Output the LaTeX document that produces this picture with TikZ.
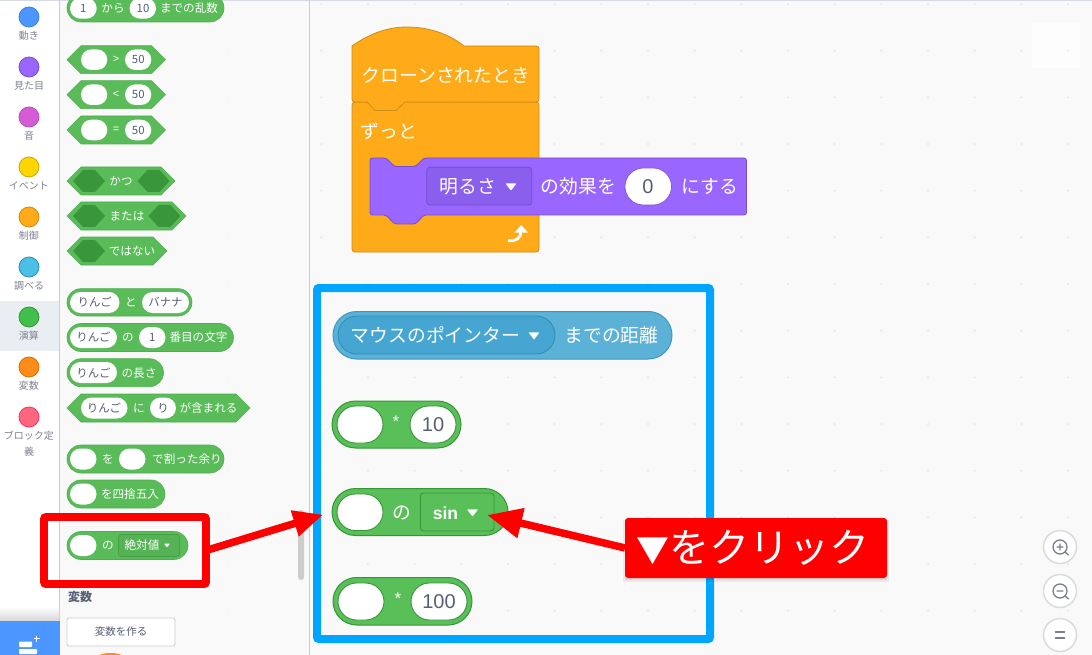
\documentclass[tikz,border=0pt]{standalone}
\usepackage{fontspec}
\setmainfont{Noto Sans CJK JP}
\newfontfamily\latn{Liberation Sans}
\usetikzlibrary{arrows.meta,shapes.misc}
\definecolor{wsbg}{HTML}{F9F9F9}
\definecolor{grn}{HTML}{59C059}
\definecolor{grnpal}{HTML}{59BC59}
\definecolor{grnd}{HTML}{389438}
\definecolor{grnin}{HTML}{3A963A}
\definecolor{org}{HTML}{FFAB19}
\definecolor{orgd}{HTML}{CF8B17}
\definecolor{pur}{HTML}{9966FF}
\definecolor{purd}{HTML}{774DCB}
\definecolor{purin}{HTML}{8A5FEE}
\definecolor{sen}{HTML}{5CB1D6}
\definecolor{sens}{HTML}{47A6D1}
\definecolor{send}{HTML}{2E8EB8}
\definecolor{ink}{HTML}{575E75}
\definecolor{catink}{HTML}{7D8291}
\definecolor{mainred}{HTML}{FF0000}
\definecolor{boxblue}{HTML}{00A5FF}
\definecolor{scratchblue}{HTML}{4C97FF}
\definecolor{selcat}{HTML}{E9EEF2}
\definecolor{topline}{HTML}{D5DAE6}
\definecolor{varorg}{HTML}{FF8C1A}
\definecolor{faintwhite}{HTML}{FDFDFD}
\newcount\tcnt
\newcount\pcnt
\newcommand{\tx}[4]{\global\advance\tcnt by 1 \node[#1] (t\the\tcnt) at (#2,#3) {#4};}
% pill: style, x1,y1,x2,y2
\newcommand{\pil}[5]{\global\advance\pcnt by 1
  \pgfmathsetmacro\pw{#4-#2}\pgfmathsetmacro\ph{#5-#3}
  \pgfmathsetmacro\pcx{(#4+#2)/2}\pgfmathsetmacro\pcy{(#5+#3)/2}
  \node[rounded rectangle,inner sep=0,outer sep=0,minimum width=\pw pt,minimum height=\ph pt,#1] (p\the\pcnt) at (\pcx,\pcy) {};}
% hexagon: style,x1,x2,cy,half height,inset
\newcommand{\hexa}[6]{\pgfmathsetmacro\xa{#2+#6}\pgfmathsetmacro\xb{#3-#6}
  \pgfmathsetmacro\yt{#4-#5}\pgfmathsetmacro\yb{#4+#5}
  \path[#1] (#2,#4)--(\xa,\yt)--(\xb,\yt)--(#3,#4)--(\xb,\yb)--(\xa,\yb)--cycle;}
% dropdown triangle: x,y,half width
\newcommand{\tri}[3]{\pgfmathsetmacro\xa{#1-#3}\pgfmathsetmacro\xb{#1+#3}
  \pgfmathsetmacro\yt{#2-0.65*#3}\pgfmathsetmacro\yb{#2+0.65*#3}
  \fill[white,rounded corners=0.6] (\xa,\yt)--(\xb,\yt)--(#1,\yb)--cycle;}
\newcommand{\catg}[3]{\definecolor{cf}{HTML}{#1}\definecolor{cd}{HTML}{#2}\node[circle,fill=cf,draw=cd,line width=.8,minimum size=20,inner sep=0] (c#3) at (29,#3) {};}
\tikzset{
 tpal/.style={font=\fontsize{11.6}{13}\selectfont,text=white,inner sep=0,text height=10.2,text depth=1.4},
 tin/.style={font=\fontsize{11.4}{13}\selectfont,text=ink,inner sep=0,text height=10,text depth=1.4},
 tsym/.style={font=\latn\fontsize{11}{13}\selectfont,text=white,inner sep=0},
 tcat/.style={font=\fontsize{10}{12}\selectfont,text=catink,inner sep=0,text height=8.8,text depth=1.2},
 tbig/.style={font=\fontsize{18.8}{22}\selectfont,text=white,inner sep=0,text height=16.5,text depth=2.3},
 tbigl/.style={font=\latn\fontsize{20}{24}\selectfont,text=ink,inner sep=0},
 palb/.style={fill=grnpal,draw=grnpal!92!black,line width=.6},
 pali/.style={fill=white},
 dkhex/.style={fill=grnin},
 wsb/.style={fill=grn,draw=grnd,line width=1},
 wsi/.style={fill=white,draw=grnd,line width=.9},
 zoombtn/.style={circle,fill=white,draw=black!14,line width=1.5,minimum size=33,inner sep=0},
 zoomic/.style={draw=ink!80,line width=1.3,line cap=round},
 redarrow/.style={draw=mainred,line width=7.5,line cap=butt}
}
\begin{document}
\begin{tikzpicture}[x=1pt,y=-1pt]
\useasboundingbox (0,0) rectangle (1092,655);
% backgrounds
\fill[wsbg] (0,0) rectangle (1092,655);
\fill[white] (0,0) rectangle (59,655);
\fill[faintwhite] (1032,22) rectangle (1080,68);
\fill[topline] (0,0) rectangle (1092,0.8);
\draw[black!20,line width=.9] (59.5,0) -- (59.5,655);
\draw[black!20,line width=1] (309.5,0) -- (309.5,655);
\fill[selcat] (0,301) rectangle (59,351);
% grid dots
\foreach \i in {0,...,16} \foreach \j in {0,...,14} {
  \fill[black!14] ({321.3+46.67*\i},{4+46.67*\j}) circle (0.8);
}
\foreach \i in {0,1,2} \foreach \j in {0,...,14} {
  \fill[black!5] ({181.3+46.67*\i},{4+46.67*\j}) circle (0.8);
}
% categories
\catg{4C97FF}{3D7FD9}{17}
\catg{9966FF}{774DCB}{67}
\catg{D65CD6}{B84DB8}{117}
\catg{FFD500}{CCAA00}{167}
\catg{FFAB19}{CF8B17}{217}
\catg{4CBFE6}{2E8EB8}{267}
\catg{40BF4A}{389438}{317}
\catg{FF8C1A}{DB6E00}{367}
\catg{FF6680}{FF3355}{417}
\tx{tcat}{29}{36}{動き}
\tx{tcat}{29}{86}{見た目}
\tx{tcat}{29}{136}{音}
\tx{tcat}{29}{186}{イベント}
\tx{tcat}{29}{236}{制御}
\tx{tcat}{29}{286}{調べる}
\tx{tcat}{29}{336}{演算}
\tx{tcat}{29}{386}{変数}
\tx{tcat}{29}{436}{ブロック定}
\tx{tcat}{29}{452}{義}
% bottom left
\shade[top color=white,bottom color=black!16] (0,607) rectangle (59,621);
\fill[scratchblue] (0,621) rectangle (60,655);
\fill[white,rounded corners=.8] (19,641.5) rectangle (32,647);
\fill[white,rounded corners=.8] (19,649) rectangle (37,654);
\draw[white,line width=1.6] (33.5,638.5) -- (39.5,638.5) (36.5,635.5) -- (36.5,641.5);
% palette blocks
\pil{palb}{67}{-6}{224}{22}
\pil{pali}{70}{-2}{96.7}{18.7}\tx{tin}{83.3}{8}{1}
\tx{tpal}{113}{8}{から}
\pil{pali}{129.5}{-2}{156}{18.7}\tx{tin}{143}{8}{10}
\tx{tpal}{189}{8}{までの乱数}
% comparison
\foreach \cy/\sg in {59.7/>,94.7/<,130/=} {
  \hexa{palb}{67}{165.5}{\cy}{14}{14}
  \pgfmathsetmacro\yu{\cy-10.3}\pgfmathsetmacro\yl{\cy+10.3}
  \pil{pali}{81}{\yu}{107.3}{\yl}
  \tx{tsym}{116}{\cy}{\sg}
  \pil{pali}{125}{\yu}{151.3}{\yl}
  \tx{tin}{138.3}{\cy}{50}
}
\hexa{palb}{67}{175}{181}{14}{14}
\hexa{dkhex}{73}{105}{181}{11}{10}\hexa{dkhex}{137.5}{169.5}{181}{11}{10}
\tx{tpal}{121}{181}{かつ}
\hexa{palb}{67}{186}{216}{14}{14}
\hexa{dkhex}{73}{105}{216}{11}{10}\hexa{dkhex}{148.5}{180.5}{216}{11}{10}
\tx{tpal}{127}{216}{または}
\hexa{palb}{67}{167}{251}{14}{14}
\hexa{dkhex}{73}{105}{251}{11}{10}
\tx{tpal}{132}{251}{ではない}
% strings
\pil{palb}{67}{288.7}{192}{316}
\pil{pali}{70}{292}{119.5}{313}\tx{tin}{94.7}{302.5}{りんご}
\tx{tpal}{131}{302.5}{と}
\pil{pali}{142}{292}{189}{313}\tx{tin}{165.5}{302.5}{バナナ}
\pil{palb}{67}{323.5}{233.5}{351.5}
\pil{pali}{70}{327}{117}{348}\tx{tin}{93.5}{337.5}{りんご}
\tx{tpal}{128}{337.5}{の}
\pil{pali}{139}{327}{165.5}{348}\tx{tin}{152.3}{337.5}{1}
\tx{tpal}{198.5}{337.5}{番目の文字}
\pil{palb}{67}{358.7}{163.5}{386.7}
\pil{pali}{70}{362}{117}{383}\tx{tin}{93.5}{372.7}{りんご}
\tx{tpal}{139}{372.7}{の長さ}
\hexa{palb}{67}{250}{408}{14}{14}
\pil{pali}{81}{397.5}{127.5}{418.5}\tx{tin}{104}{408}{りんご}
\tx{tpal}{139}{408}{に}
\pil{pali}{150}{397.5}{176}{418.5}\tx{tin}{163}{408}{り}
\tx{tpal}{208.5}{408}{が含まれる}
\pil{palb}{67}{445}{224}{473}
\pil{pali}{70}{448.5}{96.5}{469.5}
\tx{tpal}{108}{459}{を}
\pil{pali}{119}{448.5}{145.5}{469.5}
\tx{tpal}{187}{459}{で割った余り}
\pil{palb}{67}{480}{165}{508}
\pil{pali}{70}{483.5}{96.5}{504.5}
\tx{tpal}{130}{494}{を四捨五入}
\pil{palb}{67}{531.5}{188}{559.5}
\pil{pali}{70}{535}{96.5}{556}
\tx{tpal}{108}{545.5}{の}
\draw[grnd!70!grnpal,fill=grnpal!95!black,line width=.6,rounded corners=2.5] (118.5,534.5) rectangle (179.5,556.5);
\tx{tpal}{142}{545.5}{絶対値}
\tri{167}{545.5}{3}
% scrollbar
\fill[black!20,rounded corners=2.8] (298.2,510) rectangle (304,580);
% variables
\node[font=\bfseries\fontsize{12}{14}\selectfont,text=ink,inner sep=0] (vartitle) at (80,597) {変数};
\node[draw=black!20,fill=white,rounded corners=2,line width=.8,minimum width=108,minimum height=28,inner sep=0,font=\fontsize{10.5}{12}\selectfont,text=ink] (varbtn) at (121,632) {変数を作る};
\fill[varorg] (110.5,658) ellipse (14 and 5);
% top script
\draw[fill=org,draw=orgd,line width=.8,rounded corners=3] (352,102) rectangle (539,252);
\draw[fill=org,draw=orgd,line width=.8] (352,46) .. controls (372,32) and (390,27) .. (407,27) .. controls (427,27) and (448,33) .. (464,46) -- (536,46) .. controls (538,46) and (539,47) .. (539,49) -- (539,99) .. controls (539,101) and (538,102) .. (536,102) -- (405,102) -- (396,110.5) -- (375,110.5) -- (367,102) -- (355,102) .. controls (353,102) and (352,101) .. (352,99) -- cycle;
\tx{tbig}{446}{75}{クローンされたとき}
\tx{tbig}{389}{131}{ずっと}
\draw[fill=pur,draw=purd,line width=.8,rounded corners=2.5] (370,158) -- (386,158) -- (394.5,166.5) -- (415.5,166.5) -- (424,158) -- (746.5,158) -- (746.5,215) -- (424,215) -- (415.5,224) -- (394.5,224) -- (386,215) -- (370,215) -- cycle;
\draw[fill=purin,draw=purd,line width=.8,rounded corners=3] (426.7,167.3) rectangle (531.7,205);
\tx{tbig}{468}{186.5}{明るさ}
\tri{511}{187}{5.5}
\tx{tbig}{578.5}{186.5}{の効果を}
\pil{fill=white,draw=purd,line width=.6}{625}{168}{671.5}{205}
\tx{tbigl}{648}{187}{0}
\tx{tbig}{710}{186.5}{にする}
\draw[white,line width=2.8] (508,240.5) .. controls (516,242) and (521,238) .. (521,231);
\fill[white] (514.5,232.5) -- (521.3,225) -- (528,232.5) -- cycle;
% blue frame
\node[draw=boxblue,line width=8,rounded corners=2,minimum width=393,minimum height=351,inner sep=0] (frame) at (513.5,463.5) {};
% sensing
\pil{fill=sen,draw=send!70!sen,line width=1}{333}{311.5}{672}{359}
\pil{fill=sens,draw=send,line width=.9}{338}{316}{555}{354}
\tx{tbig}{435.5}{335}{マウスのポインター}
\tri{534}{336}{5.5}
\tx{tbig}{611.5}{335}{までの距離}
% multiply 10
\pil{wsb}{332}{401}{461}{448}
\pil{wsi}{337}{406}{383}{443}
\tx{tsym,font=\latn\fontsize{17}{20}\selectfont}{396}{422}{*}
\pil{wsi}{410}{406}{456}{443}
\tx{tbigl}{433}{425}{10}
% sin
\pil{wsb,alias=sinblock}{332}{488.5}{508}{535.5}
\pil{wsi}{337}{494}{383}{530.5}
\tx{tbig}{402}{512}{の}
\draw[fill=grn,draw=grnd,line width=.9,rounded corners=3] (420.5,493) rectangle (494,531);
\tx{tbigl,text=white,font=\latn\bfseries\fontsize{17.5}{20}\selectfont}{445.5}{513}{sin}
\tri{472.5}{513}{5.5}
% multiply 100
\pil{wsb}{333}{577.5}{472}{625}
\pil{wsi}{338}{583}{384}{620}
\tx{tsym,font=\latn\fontsize{17}{20}\selectfont}{398}{598.5}{*}
\pil{wsi}{411}{583}{467}{620}
\tx{tbigl}{439}{602}{100}
% zoom buttons
\node[zoombtn] (zin) at (1060,547) {};
\node[zoombtn] (zout) at (1060,591) {};
\node[zoombtn] (zfit) at (1060,635) {};
\draw[zoomic] (1060,547) circle (7) (1065,552) -- (1068.5,555) (1057,547) -- (1063,547) (1060,544) -- (1060,550);
\draw[zoomic] (1060,591) circle (7) (1065,596) -- (1068.5,599) (1057,591) -- (1063,591);
\draw[zoomic,line width=1.6] (1055.5,632) -- (1064.5,632) (1055.5,638) -- (1064.5,638);
% red box
\node[draw=mainred,line width=7.8,rounded corners=2,minimum width=162,minimum height=67,inner sep=0,outer sep=0] (redbox) at (125,550.5) {};
% label
\fill[black,opacity=.06] (623,520) rectangle (889,582);
\fill[black,opacity=.08] (625,520) rectangle (887,580);
\node[fill=mainred,rounded corners=3,minimum width=262,minimum height=60,inner sep=0,outer sep=0,text=white,font=\fontsize{40}{48}\selectfont] (clicklabel) at (756,548) {\hspace*{-6pt}{\fontsize{33}{40}\selectfont ▼}をクリック};
\coordinate (sintip) at (487,515);
\draw[redarrow,-{Triangle[length=30,width=25]},shorten >=9] (redbox.east) -- (sinblock.west);
\draw[redarrow,-{Triangle[length=35,width=29]}] (clicklabel.west) -- (sintip);
\end{tikzpicture}
\end{document}
